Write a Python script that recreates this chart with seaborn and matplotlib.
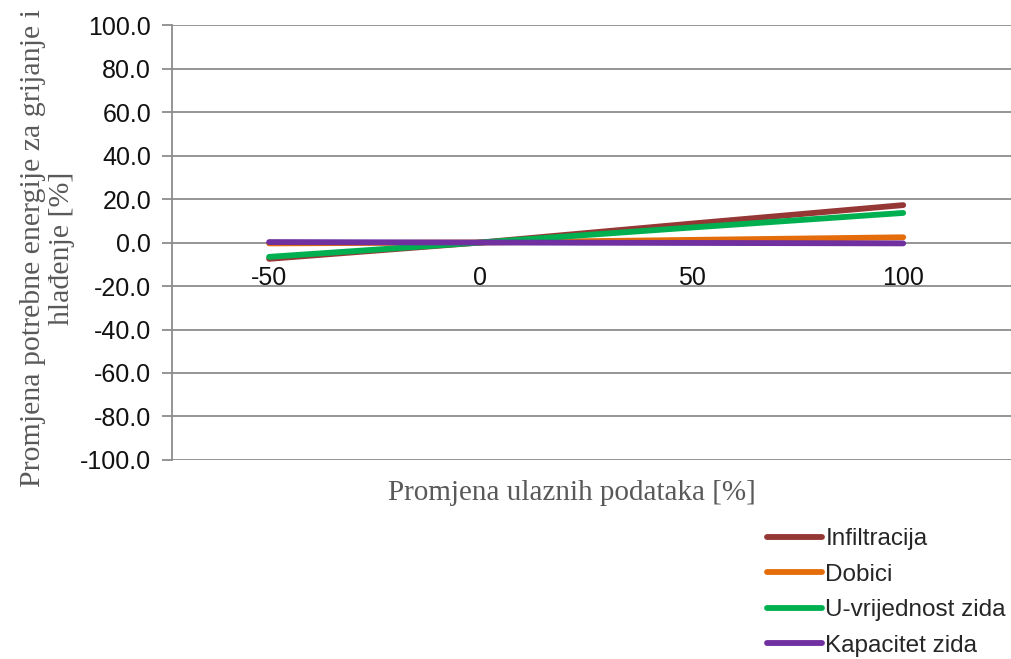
import numpy as np
import pandas as pd
import matplotlib
matplotlib.use('Agg')
import matplotlib.pyplot as plt
import seaborn as sns

# data
x_vals = [-50, 0, 50, 100]
infiltracija = [-7.5, 0.0, 8.7, 17.2]
dobici = [-0.4, 0.0, 1.2, 2.4]
u_vrijednost = [-6.6, 0.0, 6.9, 13.6]
kapacitet = [0.2, 0.0, -0.2, -0.4]

series_names = ['Infiltracija', 'Dobici', 'U-vrijednost zida', 'Kapacitet zida']
colors = ['#953735', '#E46C0A', '#00B050', '#7030A0']
y_ticks = [-100, -80, -60, -40, -20, 0, 20, 40, 60, 80, 100]
x_ticks = [-50, 0, 50, 100]

df = pd.DataFrame({
    'x': x_vals * 4,
    'y': infiltracija + dobici + u_vrijednost + kapacitet,
    'serija': np.repeat(series_names, len(x_vals)),
})

sns.set_style('white')
plt.rcParams['font.family'] = ['Liberation Sans', 'DejaVu Sans']

fig = plt.figure(figsize=(10.11, 6.59), dpi=100)
ax = fig.add_axes([0.170, 0.302, 0.830, 0.660])

grid_col = '#8C8C8C'
for yt in y_ticks:
    ax.axhline(yt, color=grid_col, lw=1.3, zorder=1)

sns.lineplot(data=df, x='x', y='y', hue='serija', palette=colors,
             hue_order=series_names, lw=4.2, ax=ax, legend=False,
             solid_capstyle='round', zorder=3)

ax.set_xlim(-73, 125.5)
ax.set_ylim(-100, 100)
ax.set_yticks(y_ticks)
ax.set_yticklabels([f'{v:.1f}' for v in y_ticks], fontsize=18, color='#111111')
ax.set_xticks(x_ticks)
ax.set_xticklabels([str(v) for v in x_ticks], fontsize=18, color='#111111')

for s in ['top', 'right', 'bottom']:
    ax.spines[s].set_visible(False)
ax.spines['left'].set_color(grid_col)
ax.spines['left'].set_linewidth(1.3)
ax.spines['left'].set_bounds(-100, 100)
ax.tick_params(axis='y', left=True, length=7, width=1.3, color=grid_col, pad=8)
ax.tick_params(axis='x', bottom=False, length=0, pad=0)
# x tick labels sit just below the zero line
for lbl in ax.get_xticklabels():
    lbl.set_y(0.447)
    lbl.set_verticalalignment('top')

ax.set_xlabel('Promjena ulaznih podataka [%]', family='Liberation Serif',
              fontsize=21, color='#595959')
ax.xaxis.set_label_coords(0.477, -0.045)
ax.set_ylabel('Promjena potrebne energije za grijanje i\nhlađenje [%]',
              family='Liberation Serif', fontsize=21.5, color='#595959',
              linespacing=1.15)
ax.yaxis.set_label_coords(-0.116, 0.487)

handles = [plt.Line2D([], [], color=c, lw=4.2, solid_capstyle='round') for c in colors]
fig.legend(handles, series_names, loc='upper left', bbox_to_anchor=(0.749, 0.213),
           frameon=False, fontsize=17.5, handlelength=2.25, handletextpad=0.15,
           labelspacing=0.55, borderaxespad=0)

fig.savefig('out.png', dpi=100)
